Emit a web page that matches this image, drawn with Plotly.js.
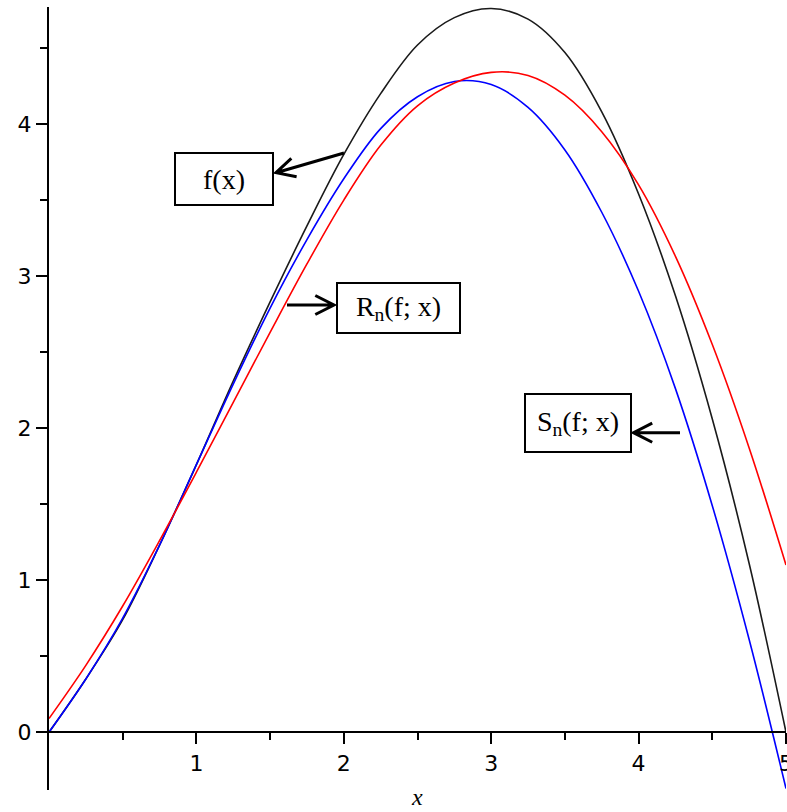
<!DOCTYPE html>
<html>
<head>
<meta charset="utf-8">
<script src="https://cdn.plot.ly/plotly-3.0.1.min.js"></script>
<style>html,body{margin:0;padding:0;background:#fff;}#chart{width:787px;height:812px;}</style>
</head>
<body>
<div id="chart"></div>
<script>
// ---- data ----
const xs = [0, 0.25, 0.5, 0.75, 1, 1.25, 1.5, 1.75, 2, 2.25, 2.5, 2.75, 3, 3.25, 3.5, 3.75, 4, 4.25, 4.5, 4.75, 5];
const fVals = [0, 0.35, 0.74, 1.23, 1.76, 2.31, 2.83, 3.33, 3.80, 4.20, 4.52, 4.70, 4.76, 4.69, 4.47, 4.08, 3.54, 2.87, 2.06, 1.11, 0];
const rVals = [0.09, 0.44, 0.83, 1.26, 1.71, 2.17, 2.63, 3.08, 3.50, 3.86, 4.12, 4.27, 4.34, 4.32, 4.19, 3.95, 3.60, 3.13, 2.55, 1.87, 1.10];
const sVals = [0, 0.35, 0.75, 1.23, 1.76, 2.29, 2.79, 3.24, 3.64, 3.97, 4.18, 4.28, 4.26, 4.11, 3.83, 3.42, 2.90, 2.26, 1.49, 0.61, -0.37];
const xTickVals = [1, 2, 3, 4, 5];
const xTickText = ['1', '2', '3', '4', '5'];
const yTickVals = [0, 1, 2, 3, 4];
const yTickText = ['0', '1', '2', '3', '4'];
const minorTickVals = [0.5, 1.5, 2.5, 3.5, 4.5];
const labelF = 'f(x)';
const labelR = 'R<sub>n</sub>(f; x)';
const labelS = 'S<sub>n</sub>(f; x)';

// ---- layout geometry ----
const WIDTH = 787, HEIGHT = 812;
const ML = 49, MR = 1, MT = 7, MB = 22;
const PW = WIDTH - ML - MR, PH = HEIGHT - MT - MB;
const XMIN = 0, XMAX = 5, YMIN = -0.38, YMAX = 4.77;
const px = v => (v - ML) / PW;
const py = v => 1 - (v - MT) / PH;

function arrowShape(tx, ty, hx, hy) {
  const dx = tx - hx, dy = ty - hy;
  const len = Math.hypot(dx, dy);
  const ux = dx / len, uy = dy / len;
  const L = 21, th = 27 * Math.PI / 180;
  const c = Math.cos(th), s = Math.sin(th);
  const a1x = hx + L * (ux * c - uy * s), a1y = hy + L * (ux * s + uy * c);
  const a2x = hx + L * (ux * c + uy * s), a2y = hy + L * (-ux * s + uy * c);
  const P = (x, y) => px(x).toFixed(5) + ',' + py(y).toFixed(5);
  return {
    type: 'path', xref: 'paper', yref: 'paper',
    path: 'M' + P(tx, ty) + 'L' + P(hx, hy) + 'M' + P(a1x, a1y) + 'L' + P(hx, hy) + 'L' + P(a2x, a2y),
    line: {color: '#000', width: 3}
  };
}

function boxAnn(text, cx, cy, w, h) {
  return {
    text: text, xref: 'paper', yref: 'paper', x: px(cx), y: py(cy),
    xanchor: 'center', yanchor: 'middle', showarrow: false,
    width: w, height: h, align: 'center', valign: 'middle',
    bordercolor: '#000', borderwidth: 2, borderpad: 0, bgcolor: 'rgba(255,255,255,0)',
    font: {family: 'Liberation Serif, Times New Roman, serif', size: 28, color: '#000'}
  };
}

const traces = [
  {x: xs, y: fVals, mode: 'lines', line: {color: '#1a1a1a', width: 1.6, shape: 'spline'}, name: 'f', hoverinfo: 'skip'},
  {x: xs, y: sVals, mode: 'lines', line: {color: '#0000ff', width: 1.6, shape: 'spline'}, name: 'S', hoverinfo: 'skip'},
  {x: xs, y: rVals, mode: 'lines', line: {color: '#ff0000', width: 1.6, shape: 'spline'}, name: 'R', hoverinfo: 'skip'}
];

const tickFont = {family: 'DejaVu Sans, sans-serif', size: 22, color: '#000'};

const layout = {
  width: WIDTH, height: HEIGHT,
  margin: {l: ML, r: MR, t: MT, b: MB, pad: 0},
  paper_bgcolor: '#fff', plot_bgcolor: '#fff',
  showlegend: false,
  xaxis: {
    range: [XMIN, XMAX], anchor: 'free', position: (0 - YMIN) / (YMAX - YMIN),
    showgrid: false, zeroline: false, showline: true, linecolor: '#000', linewidth: 2,
    tickmode: 'array', tickvals: xTickVals, ticktext: xTickText,
    ticks: 'outside', ticklen: 11, tickwidth: 2, tickcolor: '#000',
    minor: {tickmode: 'array', tickvals: minorTickVals, ticks: 'outside', ticklen: 7, tickwidth: 2, tickcolor: '#000', showgrid: false},
    tickfont: tickFont, ticklabeloverflow: 'allow', fixedrange: true
  },
  yaxis: {
    range: [YMIN, YMAX],
    showgrid: false, zeroline: false, showline: true, linecolor: '#000', linewidth: 2,
    tickmode: 'array', tickvals: yTickVals, ticktext: yTickText,
    ticks: 'outside', ticklen: 11, tickwidth: 2, tickcolor: '#000',
    minor: {tickmode: 'array', tickvals: minorTickVals, ticks: 'outside', ticklen: 7, tickwidth: 2, tickcolor: '#000', showgrid: false},
    tickfont: tickFont, fixedrange: true
  },
  annotations: [
    boxAnn(labelF, 223.5, 179.5, 96, 50),
    boxAnn(labelR, 398.5, 307.5, 121, 48),
    boxAnn(labelS, 577.5, 423.3, 104, 56),
    {text: '<i>x</i>', xref: 'paper', yref: 'paper', x: px(417), y: py(797), xanchor: 'center', yanchor: 'middle',
     showarrow: false, font: {family: 'Liberation Serif, serif', size: 24, color: '#000'}}
  ],
  shapes: [
    arrowShape(344, 153, 276, 172.7),
    arrowShape(287, 305, 334, 305),
    arrowShape(680, 432.7, 633.5, 432.7)
  ]
};

Plotly.newPlot('chart', traces, layout, {staticPlot: true, displayModeBar: false});
</script>
</body>
</html>
